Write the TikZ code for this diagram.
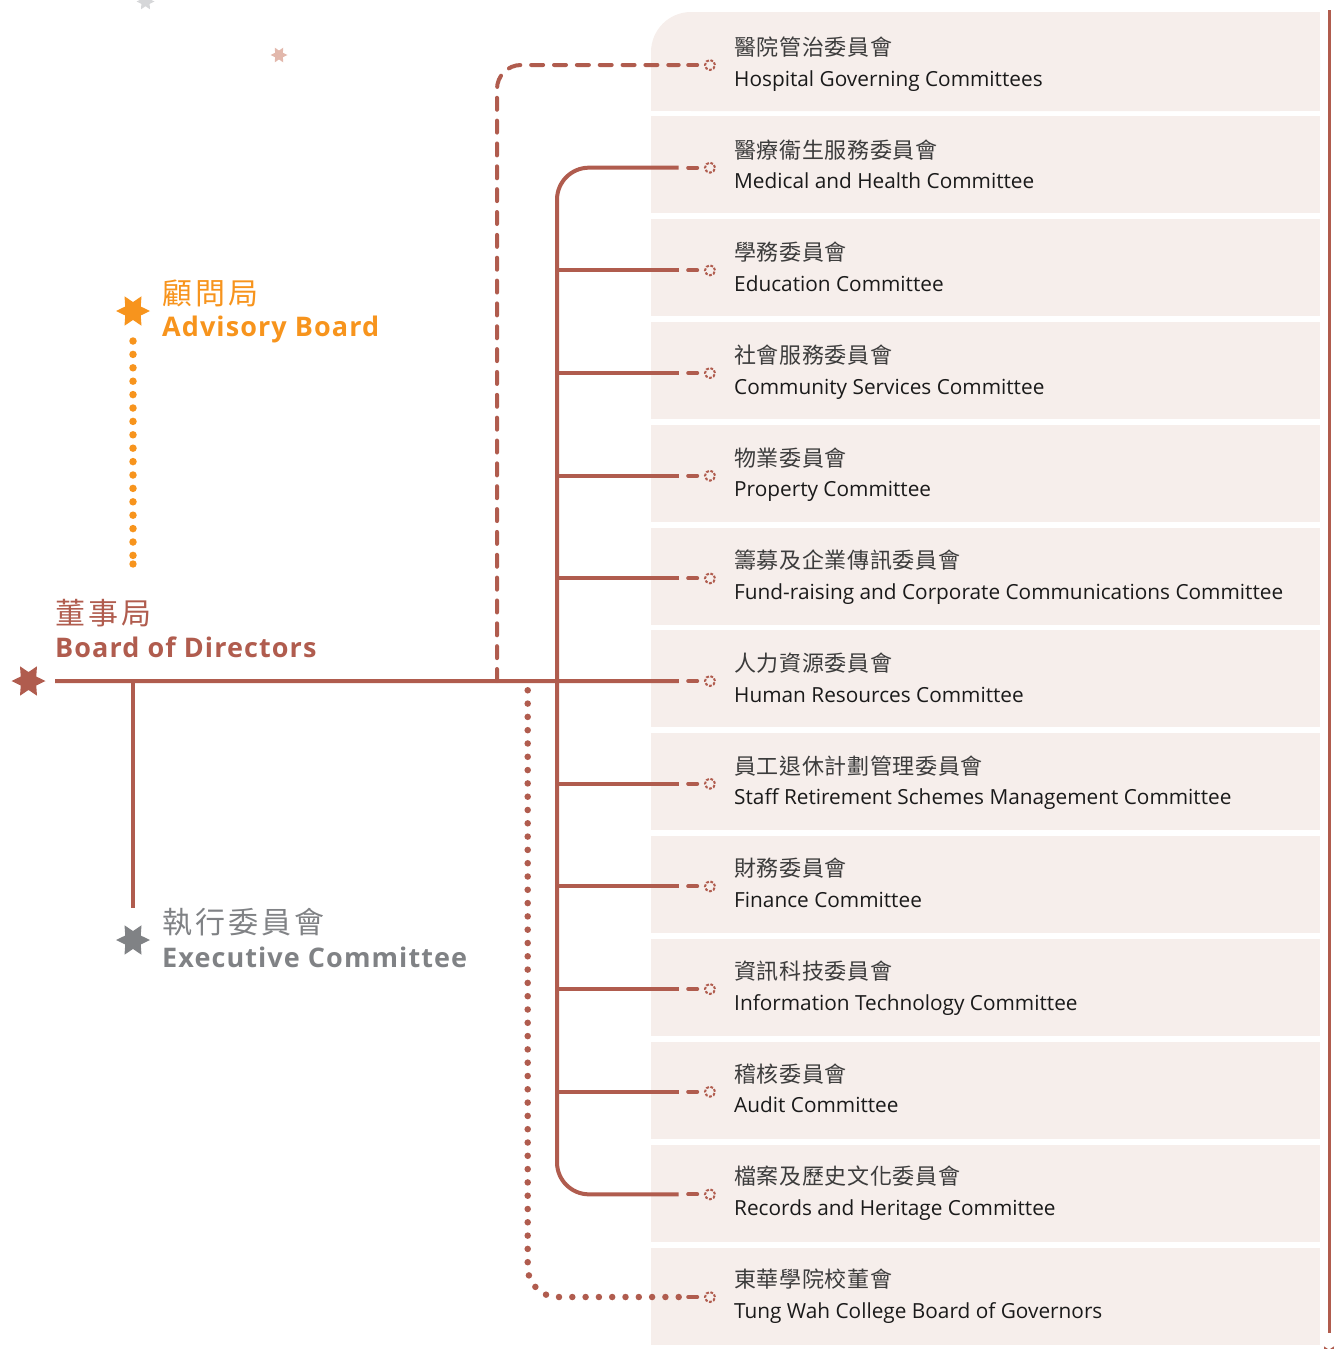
\documentclass[tikz,border=0pt]{standalone}
\usepackage{fontspec}
\setmainfont{Open Sans}
\newfontfamily\cjk{Noto Sans CJK TC}[LetterSpace=3]
\newfontfamily\cjkh{Noto Sans CJK TC}[LetterSpace=10]
\newfontfamily\hfont{Open Sans}[LetterSpace=4]
\usetikzlibrary{shapes.geometric,calc}
\definecolor{mainred}{RGB}{176,92,78}
\definecolor{boxfill}{RGB}{246,238,235}
\definecolor{advorange}{RGB}{247,148,29}
\definecolor{execgray}{RGB}{128,130,133}
\definecolor{stargray}{RGB}{214,215,217}
\definecolor{starpink}{RGB}{226,184,172}
\definecolor{zhtext}{RGB}{60,60,60}
\definecolor{entext}{RGB}{26,26,26}
\tikzset{
  box/.style={fill=boxfill, draw=none, minimum width=669pt, minimum height=97pt, inner sep=0pt},
  endc/.style={circle, draw=mainred, line width=2pt, dash pattern=on 2.8pt off 1.6pt, minimum size=10pt, inner sep=0pt},
  mainline/.style={draw=mainred, line width=4pt},
  tipdash/.style={draw=mainred, line width=4pt, line cap=round},
  dashline/.style={draw=mainred, line width=4pt, line cap=round, dash pattern=on 12pt off 10.85pt},
  dotline/.style={draw=mainred, line width=6.5pt, line cap=round, dash pattern=on 0pt off 13.3pt},
  advdots/.style={draw=advorange, line width=7.5pt, line cap=round, dash pattern=on 0pt off 13.4pt},
  hexstar/.style={star, star points=6, star point ratio=1.9, shape border rotate=90, inner sep=0pt, draw=none},
  zh/.style={anchor=base west, inner sep=0pt, text=zhtext, font=\cjk\fontsize{22}{26}\selectfont},
  en/.style={anchor=base west, inner sep=0pt, text=entext, font=\fontsize{20.8}{24}\selectfont},
  hzh/.style={anchor=base west, inner sep=0pt, font=\cjkh\fontsize{30}{34}\selectfont},
  hen/.style={anchor=base west, inner sep=0pt, font=\hfont\bfseries\fontsize{27}{32}\selectfont},
}
\begin{document}
\begin{tikzpicture}[x=1pt,y=-1pt]
\useasboundingbox (0,0) rectangle (1342,1349);

% boxes
\foreach \i in {1,...,12}{
  \node[box] (b\i) at (985.5, 61.5+102.9*\i) {};
}
\node[box, minimum height=99pt, rounded corners=40pt] (b0) at (985.5,61.5) {};
\fill[boxfill] (691,12) rectangle (1320,111);
\fill[boxfill] (651,52) rectangle (1320,111);

% right rule
\coordinate (rtop) at (1329,10);
\coordinate (rbot) at (1329,1333);
\draw[draw=mainred, line width=3pt] (rtop) -- (rbot);
\node[hexstar, fill=mainred, minimum size=20pt] (bstarr) at (1329,1355) {};

% decorative stars
\node[hexstar, fill=stargray, minimum size=18pt] (s1) at (145.5,1.5) {};
\node[hexstar, fill=starpink, minimum size=17pt] (s2) at (279,55) {};

% end circles
\foreach \i in {0,...,12}{
  \node[endc] (c\i) at (710, 65+102.667*\i) {};
  \draw[tipdash] ($(c\i.west)+(-15.8,0)$) -- ($(c\i.west)+(-6.8,0)$);
}

% stars of main bodies
\node[hexstar, fill=mainred, minimum size=34pt] (board) at (28.5,681) {};
\node[hexstar, fill=advorange, minimum size=34pt] (adv) at (133,311) {};
\node[hexstar, fill=execgray, minimum size=34pt] (exec) at (133,940) {};

\coordinate (tr) at (557,0);
\coordinate (dl) at (497,0);
\coordinate (tl) at (527.7,0);
\coordinate (bl) at (55,681);
\coordinate (ej) at (133,681);
\coordinate (eb) at (133,908);
\coordinate (dtop) at (527.7,689);

% advisory dotted link
\draw[advdots] (133,341) -- (133,556);
\fill[advorange] (133,564) circle (3.7pt);

% board main line and executive link
\draw[mainline] (bl) -- ($(c6.west)+(-25.3,0)$);
\draw[mainline] (ej) -- (eb);

% hospital dashed link
\draw[dashline, rounded corners=24pt] (c6 -| dl) -- (c0 -| dl) -- ($(c0.west)+(-25.3,0)$);

% committees trunk
\draw[mainline, rounded corners=32pt] ($(c1.west)+(-25.3,0)$) -- (c1 -| tr) -- (c11 -| tr) -- ($(c11.west)+(-25.3,0)$);
\foreach \i in {2,...,10}{
  \draw[mainline] (c\i -| tr) -- ($(c\i.west)+(-25.3,0)$);
}

% college dotted link
\draw[dotline, rounded corners=30pt] ($(c12.west)+(-25.3,0)$) -- (c12 -| tl) -- (dtop);

% headers
\node[hzh, text=advorange] (advzh) at (162,304) {顧問局};
\node[hen, text=advorange] (adven) at (162,336) {Advisory Board};
\node[hzh, text=mainred] (boardzh) at (55,624) {董事局};
\node[hen, text=mainred] (boarden) at (55,657) {Board of Directors};
\node[hzh, text=execgray] (execzh) at (162,933) {執行委員會};
\node[hen, text=execgray] (execen) at (162,967) {Executive Committee};

% committee labels
\foreach \i/\zh/\en in {
  0/醫院管治委員會/Hospital Governing Committees,
  1/醫療衞生服務委員會/Medical and Health Committee,
  2/學務委員會/Education Committee,
  3/社會服務委員會/Community Services Committee,
  4/物業委員會/Property Committee,
  5/籌募及企業傳訊委員會/Fund-raising and Corporate Communications Committee,
  6/人力資源委員會/Human Resources Committee,
  7/員工退休計劃管理委員會/Staff Retirement Schemes Management Committee,
  8/財務委員會/Finance Committee,
  9/資訊科技委員會/Information Technology Committee,
  10/稽核委員會/Audit Committee,
  11/檔案及歷史文化委員會/Records and Heritage Committee,
  12/東華學院校董會/Tung Wah College Board of Governors}{
  \node[zh] (zh\i) at (734, 55.5+102.667*\i) {\zh};
  \node[en] (en\i) at (734, 86+102.667*\i) {\en};
}
\end{tikzpicture}
\end{document}
